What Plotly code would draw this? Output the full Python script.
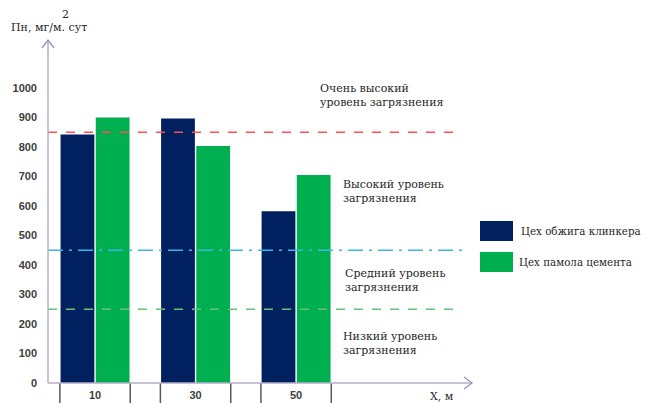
import plotly.graph_objects as go

# ---- data ----
distances = ["10", "30", "50"]
series_names = ["Цех обжига клинкера", "Цех памола цемента"]
klinker = [842, 897, 582]
cement = [900, 803, 705]
levels = [850, 450, 250]
level_labels = ["Очень высокий<br>уровень загрязнения", "Высокий уровень<br>загрязнения",
                "Средний уровень<br>загрязнения", "Низкий уровень<br>загрязнения"]
y_ticks = [0, 100, 200, 300, 400, 500, 600, 700, 800, 900, 1000]

# page shows the figure offset by the body margin (8px)
OFF = 8
W, H = 654 - OFF, 403 - OFF
L, T, B = 48 - OFF, 40 - OFF, 20
PW = 470 - 48
R = W - L - PW
PH = H - T - B


def px(x):
    return (x - 48) / PW


def py(y):
    return (383 - y) / PH


navy = "#002060"
green = "#00B050"
serif = "DejaVu Serif"
txtc = "#262626"

fig = go.Figure()
fig.add_trace(go.Bar(x=distances, y=klinker, name=series_names[0], marker_color=navy,
                     marker_line_width=0, showlegend=False))
fig.add_trace(go.Bar(x=distances, y=cement, name=series_names[1], marker_color=green,
                     marker_line_width=0, showlegend=False))

line_styles = [("#FF4F4F", "dash"), ("#3FB4E6", "longdashdot"), ("#66C27A", "dash")]
for lv, (c, d) in zip(levels, line_styles):
    fig.add_shape(type="line", xref="paper", yref="y", x0=0, x1=px(462), y0=lv, y1=lv,
                  line=dict(color=c, width=1.4, dash=d))

# category boxes under the axis
for i in range(len(distances)):
    for dx in (-0.35, 0.35):
        fig.add_shape(type="line", xref="x", yref="paper", x0=i + dx, x1=i + dx,
                      y0=0, y1=-0.1, line=dict(color="#595959", width=1.5))

axc = "#B4AECB"
arc = "#9B8FC8"
# axis lines with chevron arrows
fig.add_shape(type="line", xref="paper", yref="paper", x0=0, x1=0, y0=0, y1=py(40),
              line=dict(color=axc, width=1.5))
fig.add_shape(type="path", xref="paper", yref="paper",
              path=f"M {px(42)} {py(48)} L {px(48)} {py(40)} L {px(54)} {py(48)}",
              line=dict(color=arc, width=1.3))
fig.add_shape(type="line", xref="paper", yref="paper", x0=0, x1=px(472), y0=0, y1=0,
              line=dict(color=axc, width=1.5))
fig.add_shape(type="path", xref="paper", yref="paper",
              path=f"M {px(464)} {py(377)} L {px(472)} {py(383)} L {px(464)} {py(389)}",
              line=dict(color=arc, width=1.3))

# level annotations
ann_pos = [(318, 95.5), (341, 191.5), (343, 280), (341, 343)]
for txt, (ax_, ay_) in zip(level_labels, ann_pos):
    fig.add_annotation(text=txt, xref="paper", yref="paper", x=px(ax_), y=py(ay_),
                       xanchor="left", yanchor="middle", align="left", showarrow=False,
                       font=dict(family=serif, size=11, color=txtc))

# manual legend
leg_y = [(221, 241, 231, 519), (252, 272, 262, 517)]
for name, col, (y0, y1, yt, xt) in zip(series_names, [navy, green], leg_y):
    fig.add_shape(type="rect", xref="paper", yref="paper", x0=px(480), x1=px(513),
                  y0=py(y1), y1=py(y0), fillcolor=col, line=dict(width=0))
    fig.add_annotation(text=name, xref="paper", yref="paper", x=px(xt), y=py(yt),
                       xanchor="left", yanchor="middle", showarrow=False,
                       font=dict(family=serif, size=10.3, color=txtc))

# axis titles
fig.add_annotation(text="Пн, мг/м. сут", xref="paper", yref="paper", x=px(9), y=py(28),
                   xanchor="left", yanchor="middle", showarrow=False,
                   font=dict(family=serif, size=11, color=txtc))
fig.add_annotation(text="2", xref="paper", yref="paper", x=px(65), y=py(15),
                   xanchor="center", yanchor="middle", showarrow=False,
                   font=dict(family=serif, size=11, color=txtc))
fig.add_annotation(text="Х, м", xref="paper", yref="paper", x=px(428), y=py(396),
                   xanchor="left", yanchor="middle", showarrow=False,
                   font=dict(family=serif, size=11, color=txtc))

tickf = dict(family="Liberation Sans", size=11, color="#404040", weight="bold")
fig.update_layout(
    width=W, height=H, margin=dict(l=L, r=R, t=T, b=B),
    plot_bgcolor="white", paper_bgcolor="white",
    barmode="group", bargap=0.3, bargroupgap=0.04,
    xaxis=dict(type="category", range=[-0.468, 3.73], showgrid=False, showline=False,
               zeroline=False, ticks="", ticklabelstandoff=4, automargin=False,
               tickfont=tickf),
    yaxis=dict(range=[0, 1162.7], tickvals=y_ticks, showgrid=False, showline=False,
               zeroline=False, ticks="", ticklabelstandoff=10, automargin=False,
               tickfont=tickf),
)

fig.write_html("out.html")
